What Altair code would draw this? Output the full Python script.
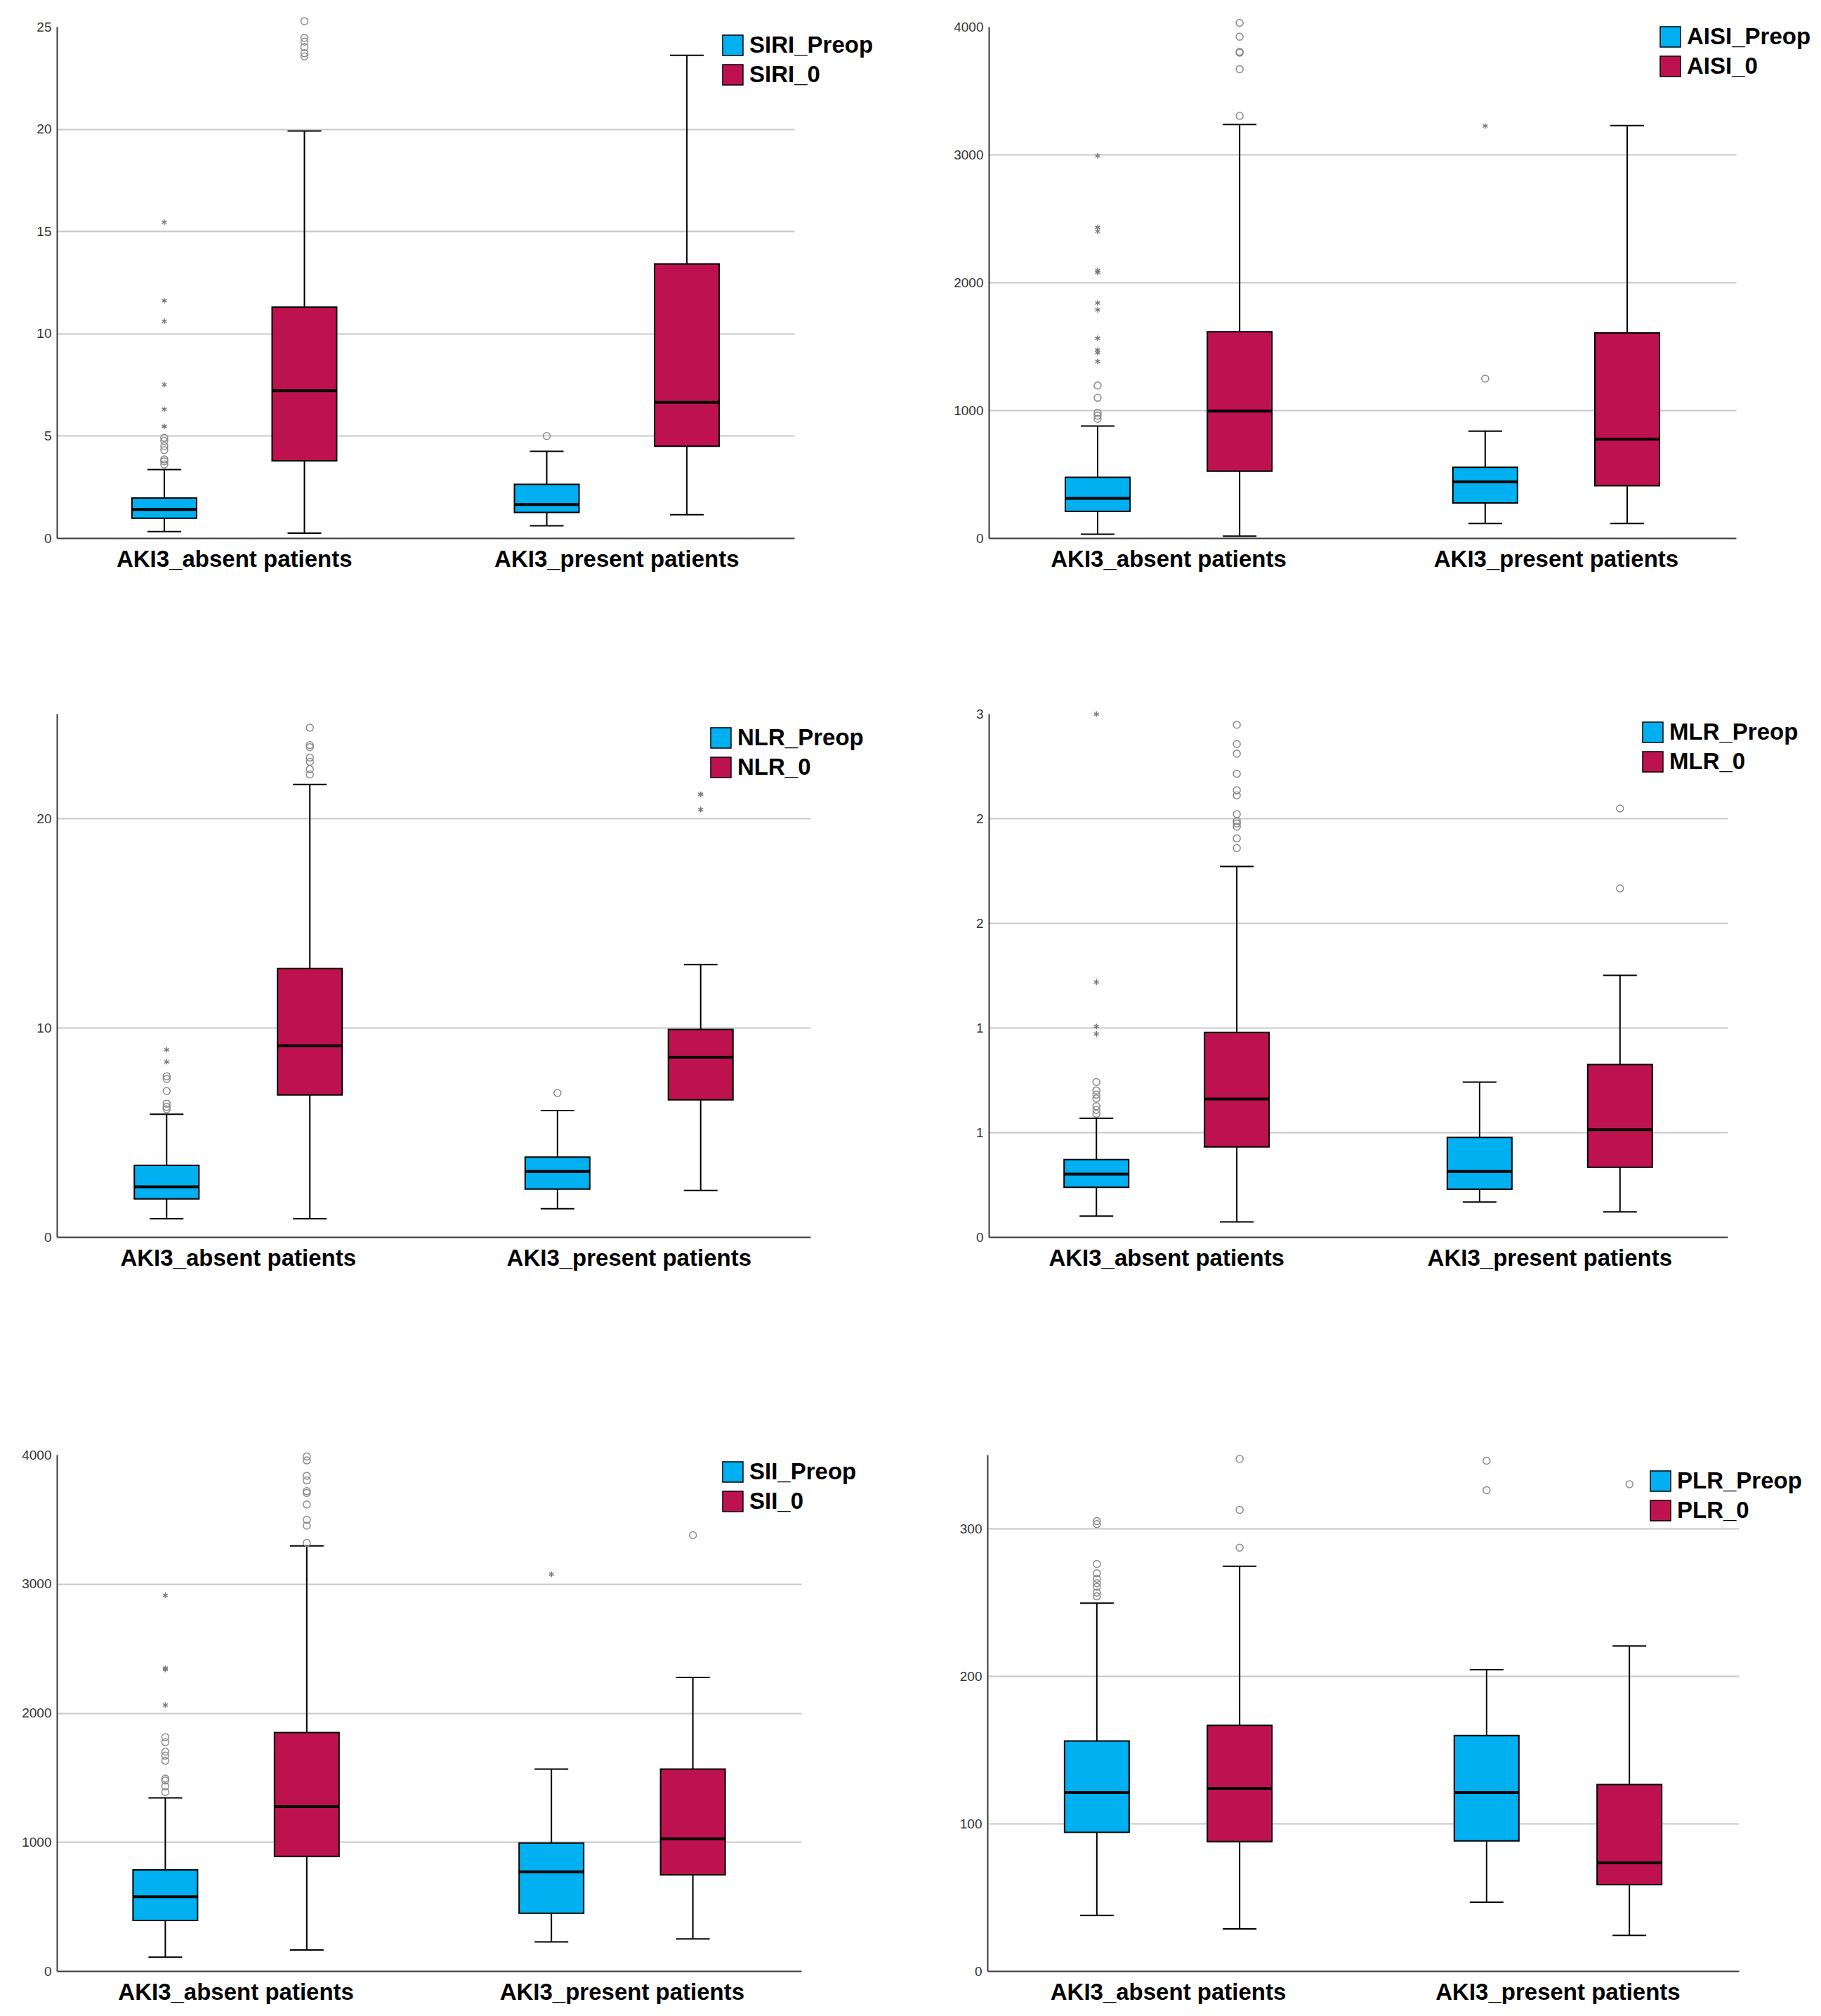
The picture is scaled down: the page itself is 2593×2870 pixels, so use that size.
import altair as alt
import pandas as pd

GROUPS = ["AKI3_absent patients", "AKI3_present patients"]
SLOTS = ["Preop", "0"]
BLUE = "#00B0F0"
RED = "#BE1250"
FONT = "Liberation Sans, Arial, Helvetica, sans-serif"

# box order: absent-Preop, absent-0, present-Preop, present-0
SIRI_LOW = [0.32, 0.24, 0.60, 1.14]
SIRI_Q1 = [0.97, 3.78, 1.25, 4.49]
SIRI_MED = [1.40, 7.20, 1.64, 6.64]
SIRI_Q3 = [1.96, 11.29, 2.63, 13.40]
SIRI_HIGH = [3.35, 19.90, 4.24, 23.60]
SIRI_CIRCLES = [[3.6, 3.75, 3.85, 4.3, 4.5, 4.75, 4.9], [23.55, 23.7, 24.0, 24.27, 24.45, 25.27], [4.99], []]
SIRI_STARS = [[5.46, 6.3, 7.5, 10.6, 11.6, 15.44], [], [], []]

AISI_LOW = [30, 15, 114, 114]
AISI_Q1 = [209, 523, 275, 410]
AISI_MED = [311, 993, 439, 774]
AISI_Q3 = [475, 1614, 553, 1605]
AISI_HIGH = [876, 3235, 837, 3226]
AISI_CIRCLES = [[933, 957, 980, 1097, 1193], [3303, 3668, 3797, 3803, 3922, 4030], [1247], []]
AISI_STARS = [[1381, 1450, 1470, 1563, 1785, 1839, 2078, 2093, 2400, 2430, 2990], [], [3223], []]

NLR_LOW = [0.87, 0.87, 1.35, 2.22]
NLR_Q1 = [1.82, 6.79, 2.29, 6.55]
NLR_MED = [2.40, 9.14, 3.13, 8.59]
NLR_Q3 = [3.42, 12.83, 3.82, 9.92]
NLR_HIGH = [5.86, 21.62, 6.04, 13.01]
NLR_CIRCLES = [[6.1, 6.22, 6.37, 6.97, 7.55, 7.68], [22.1, 22.35, 22.7, 22.9, 23.4, 23.5, 24.33], [6.88], []]
NLR_STARS = [[8.37, 8.95], [], [], [20.42, 21.15]]

MLR_LOW = [0.100, 0.072, 0.167, 0.120]
MLR_Q1 = [0.237, 0.430, 0.228, 0.333]
MLR_MED = [0.300, 0.659, 0.313, 0.513]
MLR_Q3 = [0.370, 0.977, 0.476, 0.824]
MLR_HIGH = [0.567, 1.770, 0.740, 1.250]
MLR_CIRCLES = [[0.589, 0.607, 0.625, 0.662, 0.68, 0.70, 0.74],
               [1.858, 1.904, 1.96, 1.976, 1.987, 2.02, 2.11, 2.134, 2.213, 2.309, 2.355, 2.447],
               [], [1.665, 2.047]]
MLR_STARS = [[0.97, 1.006, 1.218, 2.498], [], [], []]

SII_LOW = [107, 163, 226, 249]
SII_Q1 = [392, 888, 448, 745]
SII_MED = [576, 1274, 769, 1025]
SII_Q3 = [784, 1847, 992, 1565]
SII_HIGH = [1342, 3294, 1565, 2275]
SII_CIRCLES = [[1387, 1431, 1476, 1491, 1630, 1669, 1699, 1773, 1812],
               [3317, 3451, 3496, 3615, 3704, 3718, 3801, 3837, 3956, 3986], [], [3377]]
SII_STARS = [[2061, 2337, 2346, 2911], [], [3074], []]

PLR_LOW = [37.7, 28.6, 46.7, 24.2]
PLR_Q1 = [94.1, 87.7, 88.2, 58.6]
PLR_MED = [121.0, 123.8, 121.0, 73.3]
PLR_Q3 = [156.0, 166.6, 159.7, 126.4]
PLR_HIGH = [249.4, 274.4, 204.3, 220.3]
PLR_CIRCLES = [[254, 256.6, 260.5, 263, 266, 269.6, 276, 303, 305], [287, 312.6, 347.2], [326, 346], [330]]
PLR_STARS = [[], [], [], []]

ASTERISK = "M0,-1L0,1M-0.87,-0.5L0.87,0.5M-0.87,0.5L0.87,-0.5"


def panel(name, low, q1, med, q3, high, circles, stars, top, ticks, width, height,
          legend_x, legend_y, label_expr=None):
    series = [f"{name}_Preop", f"{name}_0"]
    rows, crow, srow = [], [], []
    for i in range(4):
        g = GROUPS[i // 2]
        s = SLOTS[i % 2]
        rows.append(dict(group=g, slot=s, series=f"{name}_{s}", low=low[i], q1=q1[i],
                         med=med[i], q3=q3[i], high=high[i]))
        for v in circles[i]:
            crow.append(dict(group=g, slot=s, value=v))
        for v in stars[i]:
            srow.append(dict(group=g, slot=s, value=v))
    box = pd.DataFrame(rows)
    cdf = pd.DataFrame(crow, columns=["group", "slot", "value"])
    sdf = pd.DataFrame(srow, columns=["group", "slot", "value"])

    x = alt.X("group:N", sort=GROUPS,
              scale=alt.Scale(paddingInner=0.2, paddingOuter=0.064),
              axis=alt.Axis(title=None, labelAngle=0, labelFontSize=33, labelFontWeight="bold",
                            labelColor="black", labelFont=FONT, labelPadding=14, labelLimit=0,
                            ticks=False, domainColor="#3a3a3a", domainWidth=2, grid=False))
    xo = alt.XOffset("slot:N", sort=SLOTS, scale=alt.Scale(paddingInner=0, paddingOuter=0.0917))
    yaxis_kwargs = dict(title=None, values=ticks, ticks=False, grid=True, gridColor="#c8c8c8",
                        gridWidth=2,
                        gridOpacity={"condition": {"test": f"datum.value <= 0 || datum.value >= {top * 0.999}",
                                                   "value": 0}, "value": 1},
                        labelFontSize=19, labelColor="#333333", labelFont=FONT, labelPadding=8,
                        domainColor="#3a3a3a", domainWidth=2)
    if label_expr:
        yaxis_kwargs["labelExpr"] = label_expr
    else:
        yaxis_kwargs["format"] = "d"
    yaxis = alt.Axis(**yaxis_kwargs)
    yscale = alt.Scale(domain=[0, top], nice=False, zero=True)

    def Y(field):
        return alt.Y(f"{field}:Q", scale=yscale, axis=yaxis)

    base = alt.Chart(box)
    whisk = base.mark_rule(color="black", strokeWidth=2).encode(x=x, xOffset=xo, y=Y("low"), y2="high:Q")
    bars = base.mark_bar(size=92, stroke="black", strokeWidth=2).encode(
        x=x, xOffset=xo, y=Y("q1"), y2="q3:Q",
        color=alt.Color("series:N", sort=series,
                        scale=alt.Scale(domain=series, range=[BLUE, RED]),
                        legend=alt.Legend(title=None, orient="none", legendX=legend_x, legendY=legend_y,
                                          symbolType="square", symbolSize=841, symbolStrokeColor="black",
                                          symbolStrokeWidth=1.5, labelFontSize=33, labelFontWeight="bold",
                                          labelColor="black", labelFont=FONT, labelOffset=7,
                                          rowPadding=7, padding=0, labelLimit=0)))
    medians = base.mark_tick(size=92, thickness=4, color="black", opacity=1).encode(
        x=x, xOffset=xo, y=Y("med"))
    cap_lo = base.mark_tick(size=48, thickness=2, color="black", opacity=1).encode(
        x=x, xOffset=xo, y=Y("low"))
    cap_hi = base.mark_tick(size=48, thickness=2, color="black", opacity=1).encode(
        x=x, xOffset=xo, y=Y("high"))
    layers = [whisk, bars, medians, cap_lo, cap_hi]
    if len(cdf):
        layers.append(alt.Chart(cdf).mark_point(shape="circle", filled=False, size=100, color="#8a8a8a",
                                                strokeWidth=1.5, opacity=1, clip=False).encode(
            x=x, xOffset=xo, y=Y("value")))
    if len(sdf):
        layers.append(alt.Chart(sdf).mark_point(shape=ASTERISK, filled=False, size=64, color="#7a7a7a",
                                                strokeWidth=1.5, opacity=1, clip=False).encode(
            x=x, xOffset=xo, y=Y("value")))
    return alt.layer(*layers).properties(width=width, height=height)


tl = panel("SIRI", SIRI_LOW, SIRI_Q1, SIRI_MED, SIRI_Q3, SIRI_HIGH, SIRI_CIRCLES, SIRI_STARS,
           25, [0, 5, 10, 15, 20, 25], 1050, 728, 946, 10)
tr = panel("AISI", AISI_LOW, AISI_Q1, AISI_MED, AISI_Q3, AISI_HIGH, AISI_CIRCLES, AISI_STARS,
           4000, [0, 1000, 2000, 3000, 4000], 1064, 728, 954, -2)
ml = panel("NLR", NLR_LOW, NLR_Q1, NLR_MED, NLR_Q3, NLR_HIGH, NLR_CIRCLES, NLR_STARS,
           25, [0, 10, 20], 1073, 745, 929, 18)
mr = panel("MLR", MLR_LOW, MLR_Q1, MLR_MED, MLR_Q3, MLR_HIGH, MLR_CIRCLES, MLR_STARS,
           2.5, [0, 0.5, 1.0, 1.5, 2.0, 2.5], 1052, 745, 929, 10, label_expr="'' + round(datum.value)")
bl = panel("SII", SII_LOW, SII_Q1, SII_MED, SII_Q3, SII_HIGH, SII_CIRCLES, SII_STARS,
           4000, [0, 1000, 2000, 3000, 4000], 1060, 735, 946, 8)
br = panel("PLR", PLR_LOW, PLR_Q1, PLR_MED, PLR_Q3, PLR_HIGH, PLR_CIRCLES, PLR_STARS,
           350, [0, 100, 200, 300], 1070, 735, 942, 21)

res = dict(color="independent", xOffset="independent", y="independent", x="independent")
row1 = alt.hconcat(tl, tr, spacing=277, bounds="flush").resolve_scale(**res)
row2 = alt.hconcat(ml, mr, spacing=254, bounds="flush").resolve_scale(**res)
row3 = alt.hconcat(bl, br, spacing=265, bounds="flush").resolve_scale(**res)
upper = alt.vconcat(row1, row2, spacing=194).resolve_scale(**res)
chart = alt.vconcat(upper, row3, spacing=254).resolve_scale(**res).configure(
    padding={"left": 22, "top": 14, "right": 5, "bottom": 0}, font=FONT, background="white"
).configure_view(stroke=None)

chart.save("out.html", embed_options={"renderer": "svg", "actions": False})
